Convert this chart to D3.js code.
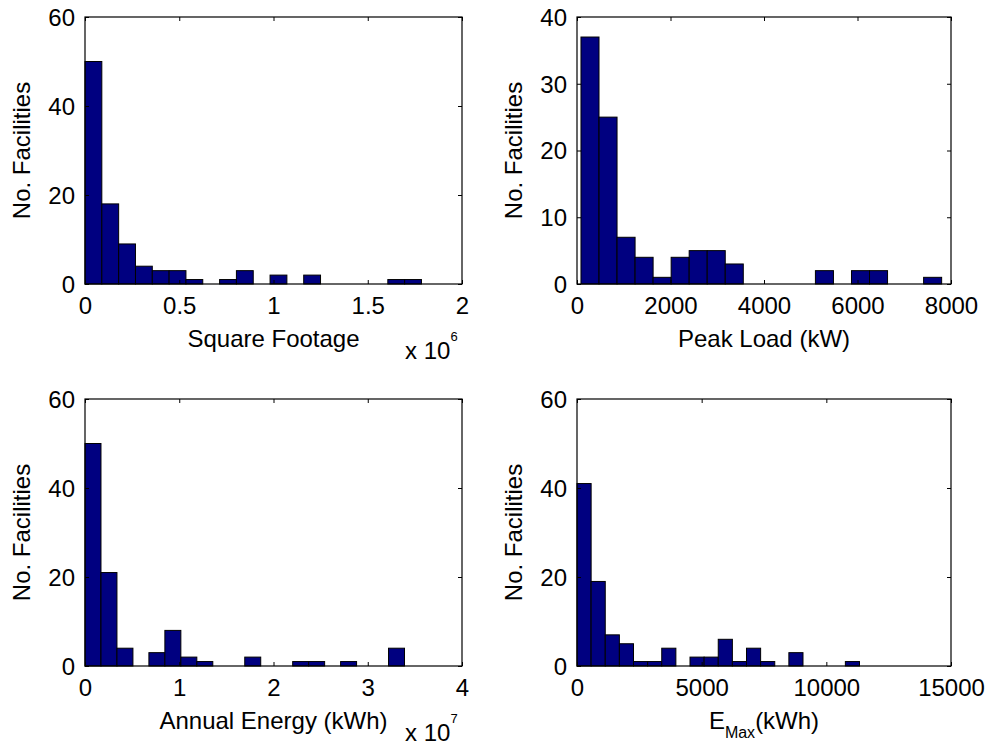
<!DOCTYPE html>
<html>
<head>
<meta charset="utf-8">
<script src="https://cdn.jsdelivr.net/npm/d3@7"></script>
<style>
    body { margin: 0; background: #fff; }
    #chart text { font-family: "Liberation Sans", Arial, Helvetica, sans-serif; fill: #000; }
</style>
</head>
<body>
<div id="chart"></div>
<script>
// histogram counts, 20 bins per panel
let sqftCounts = [50, 18, 9, 4, 3, 3, 1, 0, 1, 3, 0, 2, 0, 2, 0, 0, 0, 0, 1, 1],
    sqftRange = [0, 1.785e6];
let peakCounts = [37, 25, 7, 4, 1, 4, 5, 5, 3, 0, 0, 0, 0, 2, 0, 2, 2, 0, 0, 1],
    peakRange = [85, 7800];
let energyCounts = [50, 21, 4, 0, 3, 8, 2, 1, 0, 0, 2, 0, 0, 1, 1, 0, 1, 0, 0, 4],
    energyRange = [0, 3.39e7];
let emaxCounts = [41, 19, 7, 5, 1, 1, 4, 0, 2, 2, 6, 1, 4, 1, 0, 3, 0, 0, 0, 1],
    emaxRange = [0, 11330];

// axis ticks and their labels
let sqftTicks = [0, 0.5e6, 1e6, 1.5e6, 2e6],
    sqftTickLabels = ['0', '0.5', '1', '1.5', '2'];
let peakTicks = [0, 2000, 4000, 6000, 8000],
    peakTickLabels = ['0', '2000', '4000', '6000', '8000'];
let energyTicks = [0, 1e7, 2e7, 3e7, 4e7],
    energyTickLabels = ['0', '1', '2', '3', '4'];
let emaxTicks = [0, 5000, 10000, 15000],
    emaxTickLabels = ['0', '5000', '10000', '15000'];
let countTicks60 = [0, 20, 40, 60],
    countTicks40 = [0, 10, 20, 30, 40];

let svgWidth = 987,
    svgHeight = 746,
    fontSize = 24;

let svg = d3.select('#chart')
    .append('svg')
    .attr('width', svgWidth)
    .attr('height', svgHeight);

let panels = [
    {counts: sqftCounts, range: sqftRange, ticks: sqftTicks, tickLabels: sqftTickLabels,
        yTicks: countTicks60, label: 'Square Footage', exponent: '6', x0: 85, x1: 462, y0: 17, y1: 284},
    {counts: peakCounts, range: peakRange, ticks: peakTicks, tickLabels: peakTickLabels,
        yTicks: countTicks40, label: 'Peak Load (kW)', x0: 577, x1: 951, y0: 17, y1: 284},
    {counts: energyCounts, range: energyRange, ticks: energyTicks, tickLabels: energyTickLabels,
        yTicks: countTicks60, label: 'Annual Energy (kWh)', exponent: '7', x0: 85, x1: 462, y0: 399, y1: 666},
    {counts: emaxCounts, range: emaxRange, ticks: emaxTicks, tickLabels: emaxTickLabels,
        yTicks: countTicks60, label: 'E_Max', x0: 577, x1: 951, y0: 399, y1: 666}
];

panels.forEach(p => {
    let x = d3.scaleLinear()
        .domain(d3.extent(p.ticks))
        .range([p.x0, p.x1]);
    let y = d3.scaleLinear()
        .domain(d3.extent(p.yTicks))
        .range([p.y1, p.y0]);

    let n = p.counts.length,
        binWidth = (p.range[1] - p.range[0]) / n;
    let bins = p.counts.map((c, i) => ({
        lo: p.range[0] + i * binWidth,
        hi: p.range[0] + (i + 1) * binWidth,
        count: c
    }));

    let g = svg.append('g');

    g.selectAll('.bar')
        .data(bins)
        .enter()
        .append('rect')
        .attr('class', 'bar')
        .attr('x', d => x(d.lo))
        .attr('y', d => y(d.count))
        .attr('width', d => x(d.hi) - x(d.lo))
        .attr('height', d => y(0) - y(d.count))
        .attr('fill', '#000080')
        .attr('stroke', '#000')
        .attr('stroke-width', 1);

    // box with inward ticks on all four sides
    let tickLen = 4;
    g.append('g')
        .attr('transform', `translate(0, ${ p.y1 })`)
        .call(d3.axisBottom(x).tickValues(p.ticks).tickSizeInner(-tickLen).tickSizeOuter(0)
            .tickFormat((d, i) => p.tickLabels[i]))
        .call(a => {
            a.select('.domain').remove();
            a.selectAll('text')
                .attr('y', 30)
                .attr('dy', 0)
                .style('font-size', fontSize + 'px')
                .style('font-family', '"Liberation Sans", Arial, sans-serif');
        });
    g.append('g')
        .attr('transform', `translate(0, ${ p.y0 })`)
        .call(d3.axisTop(x).tickValues(p.ticks).tickSizeInner(-tickLen).tickSizeOuter(0).tickFormat(''))
        .call(a => a.select('.domain').remove());
    g.append('g')
        .attr('transform', `translate(${ p.x0 }, 0)`)
        .call(d3.axisLeft(y).tickValues(p.yTicks).tickSizeInner(-tickLen).tickSizeOuter(0))
        .call(a => {
            a.select('.domain').remove();
            a.selectAll('text')
                .attr('x', -10)
                .attr('dy', '0.35em')
                .style('font-size', fontSize + 'px')
                .style('font-family', '"Liberation Sans", Arial, sans-serif');
        });
    g.append('g')
        .attr('transform', `translate(${ p.x1 }, 0)`)
        .call(d3.axisRight(y).tickValues(p.yTicks).tickSizeInner(-tickLen).tickSizeOuter(0).tickFormat(''))
        .call(a => a.select('.domain').remove());

    g.selectAll('.tick line').attr('stroke', '#000');

    g.append('rect')
        .attr('x', p.x0)
        .attr('y', p.y0)
        .attr('width', p.x1 - p.x0)
        .attr('height', p.y1 - p.y0)
        .attr('fill', 'none')
        .attr('stroke', '#000')
        .attr('stroke-width', 1.2);

    // y label
    let cy = (p.y0 + p.y1) / 2;
    g.append('text')
        .attr('transform', `translate(${ p.x0 - 63 }, ${ cy }) rotate(-90)`)
        .attr('text-anchor', 'middle')
        .attr('dy', '0.35em')
        .style('font-size', fontSize + 'px')
        .text('No. Facilities');

    // x label
    let cx = (p.x0 + p.x1) / 2;
    let xl = g.append('text')
        .attr('x', cx)
        .attr('y', p.y1 + 63)
        .attr('text-anchor', 'middle')
        .style('font-size', fontSize + 'px');
    if (p.label === 'E_Max') {
        xl.append('tspan').text('E');
        xl.append('tspan').attr('dy', 9).style('font-size', '16px').text('Max');
        xl.append('tspan').attr('dy', -9).text('(kWh)');
    } else {
        xl.text(p.label);
    }

    // exponent note, e.g. "x 10^6"
    if (p.exponent) {
        let ex = g.append('text')
            .attr('x', p.x1 - 57)
            .attr('y', p.y1 + 75)
            .style('font-size', fontSize + 'px');
        ex.append('tspan').text('x 10');
        ex.append('tspan').attr('dy', -18).style('font-size', '13px').text(p.exponent);
    }
});
</script>
</body>
</html>
